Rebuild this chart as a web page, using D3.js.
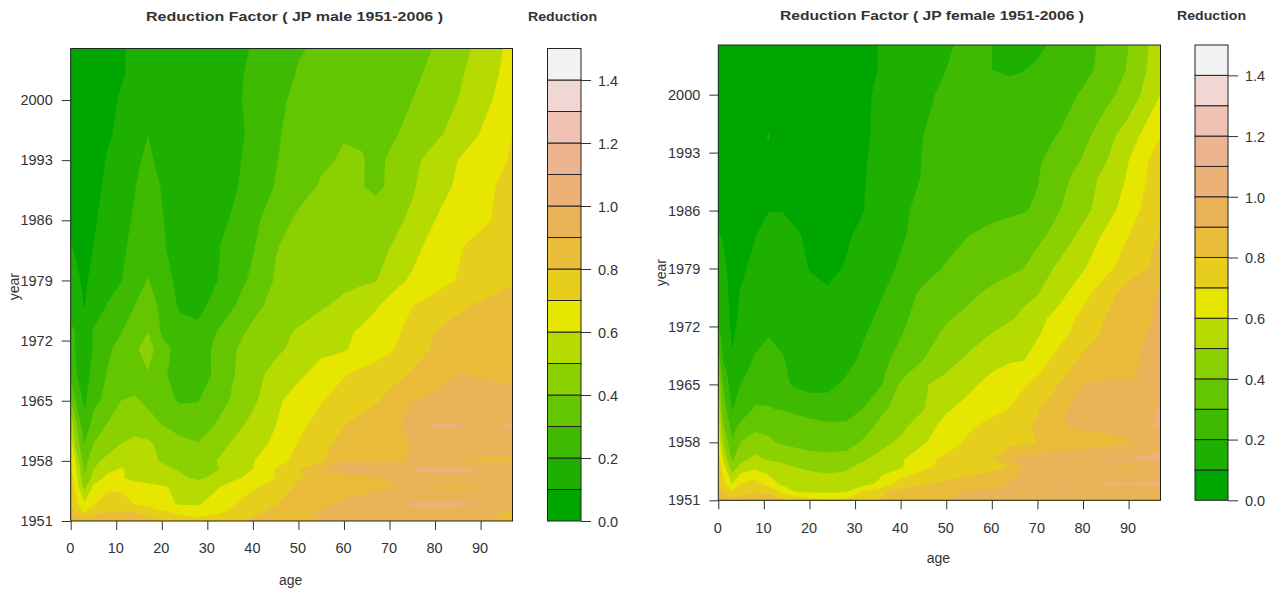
<!DOCTYPE html>
<html>
<head>
<meta charset="utf-8">
<script src="https://cdn.jsdelivr.net/npm/d3@7"></script>
<style>
html,body{margin:0;padding:0;background:#fff}
svg{display:block}
text{font-family:"Liberation Sans",Arial,sans-serif;fill:#333}
.domain{display:none}
</style>
</head>
<body>
<svg id="chart" width="1277" height="592"></svg>
<script>
const ages = [0,1,3,5,8,11,14,17,20,24,28,32,36,40,45,50,55,60,64,67,70,75,80,85,90,97];
const maleYears = [1951,1952,1953,1955,1956,1957,1958,1960,1962,1965,1968,1971,1973,1976,1979,1983,1986,1990,1993,1996,2000,2003,2006];
const maleValues = [
[.88,.88,.87,.88,.86,.85,.84,.83,.80,.75,.74,.76,.78,.82,.85,.88,.90,.91,.92,.93,.94,.94,.94,.92,.91,.87],
[.82,.80,.70,.78,.80,.805,.80,.775,.72,.68,.65,.68,.73,.78,.83,.875,.91,.93,.95,.96,.97,.98,.98,.96,.93,.89],
[.80,.74,.61,.69,.76,.78,.695,.66,.63,.59,.59,.64,.695,.755,.795,.85,.885,.915,.93,.945,.97,1.01,1.015,1.02,1.005,.96],
[.75,.68,.47,.62,.67,.665,.64,.625,.61,.58,.57,.59,.64,.685,.73,.82,.84,.86,.875,.885,.89,.92,.89,.88,.90,.91],
[.74,.66,.42,.53,.63,.61,.575,.56,.54,.52,.48,.535,.585,.63,.705,.79,.82,.85,.87,.885,.92,.94,.97,.97,.93,.93],
[.72,.63,.385,.50,.57,.61,.57,.55,.53,.49,.46,.49,.56,.60,.705,.80,.89,1.015,1.02,1.01,.98,1.01,1.02,1.02,1.01,.95],
[.70,.60,.35,.48,.52,.56,.565,.53,.49,.46,.44,.50,.555,.595,.66,.73,.79,.897,.895,.89,.885,.905,.94,.90,.89,.89],
[.66,.48,.30,.40,.46,.50,.53,.52,.47,.42,.405,.46,.515,.57,.615,.705,.78,.82,.84,.85,.875,.905,.92,.925,.93,.93],
[.60,.44,.23,.35,.41,.455,.46,.43,.405,.375,.35,.41,.475,.53,.60,.68,.735,.80,.835,.86,.88,.92,1.01,1.01,.96,1.02],
[.42,.30,.18,.27,.33,.40,.41,.385,.33,.29,.297,.355,.42,.48,.575,.655,.695,.74,.77,.79,.825,.90,.92,.93,.93,.935],
[.28,.21,.155,.235,.305,.335,.36,.39,.315,.265,.24,.325,.40,.465,.535,.58,.645,.695,.725,.75,.77,.81,.85,.905,.895,.88],
[.25,.195,.135,.205,.28,.335,.38,.45,.33,.27,.255,.32,.395,.44,.48,.53,.575,.59,.635,.655,.685,.755,.815,.84,.855,.88],
[.22,.20,.125,.21,.26,.295,.36,.40,.29,.245,.225,.30,.37,.42,.47,.51,.555,.58,.615,.645,.67,.73,.80,.83,.85,.87],
[.17,.14,.097,.14,.205,.25,.30,.345,.28,.185,.17,.24,.30,.375,.43,.46,.49,.525,.56,.59,.63,.70,.74,.785,.815,.84],
[.15,.12,.085,.125,.16,.195,.26,.305,.23,.18,.165,.195,.26,.32,.41,.44,.46,.475,.485,.495,.56,.615,.665,.705,.74,.79],
[.105,.09,.075,.10,.145,.18,.225,.265,.21,.165,.15,.19,.24,.29,.395,.43,.45,.465,.475,.485,.495,.565,.64,.69,.73,.77],
[.08,.06,.07,.09,.13,.17,.21,.255,.205,.16,.15,.17,.215,.275,.35,.42,.44,.45,.46,.47,.475,.515,.60,.64,.68,.74],
[.04,.04,.05,.075,.115,.15,.195,.24,.195,.155,.14,.155,.19,.245,.305,.36,.41,.43,.405,.37,.42,.49,.555,.615,.665,.74],
[.04,.04,.055,.07,.105,.14,.18,.22,.17,.14,.14,.15,.18,.235,.295,.345,.385,.41,.405,.38,.41,.475,.54,.60,.65,.71],
[.05,.05,.06,.07,.09,.115,.15,.20,.16,.14,.14,.15,.17,.225,.29,.33,.36,.395,.39,.375,.385,.425,.48,.54,.605,.70],
[.05,.05,.06,.07,.085,.105,.12,.135,.14,.14,.15,.16,.18,.23,.285,.315,.325,.335,.345,.355,.37,.40,.45,.50,.565,.66],
[.05,.05,.06,.07,.08,.095,.11,.12,.13,.14,.15,.16,.185,.215,.27,.305,.315,.32,.33,.335,.35,.38,.425,.485,.54,.645],
[.05,.05,.06,.07,.08,.095,.11,.12,.13,.14,.15,.16,.18,.205,.25,.295,.31,.32,.325,.335,.35,.37,.405,.46,.53,.63]
];
const femaleYears = [1951,1952,1953,1955,1956,1958,1960,1962,1965,1966,1968,1971,1973,1976,1979,1983,1986,1990,1992,1995,2000,2003,2006];
const femaleValues = [
[.86,.86,.85,.85,.86,.85,.82,.78,.74,.72,.73,.76,.81,.85,.88,.90,.92,.91,.92,.92,.93,.94,.95,.95,.97,.98],
[.83,.80,.71,.77,.795,.79,.68,.60,.595,.585,.60,.72,.785,.83,.86,.885,.91,.92,.925,.93,.94,.95,.96,.96,.96,.97],
[.80,.74,.60,.70,.745,.65,.58,.56,.55,.54,.55,.56,.63,.75,.79,.82,.84,.87,.905,.93,.95,1.01,.99,1.01,1.01,1.01],
[.76,.66,.44,.54,.575,.555,.53,.50,.485,.475,.485,.53,.57,.59,.68,.725,.755,.78,.80,.905,.91,.92,.92,.91,.885,.93],
[.73,.60,.385,.47,.52,.49,.47,.45,.44,.43,.44,.49,.54,.585,.67,.72,.76,.795,.91,.93,.95,.96,.97,1.01,1.01,1.04],
[.68,.50,.315,.405,.45,.41,.39,.375,.36,.355,.355,.415,.47,.52,.59,.655,.72,.745,.765,.78,.80,.84,.85,.86,.89,.94],
[.65,.42,.265,.32,.37,.385,.385,.365,.34,.32,.32,.36,.43,.47,.56,.63,.685,.73,.76,.78,.82,.895,.92,.93,.94,1.02],
[.58,.36,.195,.25,.31,.305,.295,.27,.25,.24,.245,.305,.385,.44,.495,.59,.63,.67,.705,.745,.79,.89,.92,.93,.94,1.01],
[.50,.30,.15,.205,.25,.27,.215,.19,.175,.18,.215,.25,.30,.41,.49,.535,.58,.63,.665,.69,.72,.805,.90,.92,.92,.96],
[.45,.27,.135,.185,.235,.26,.21,.187,.173,.173,.20,.24,.29,.385,.46,.51,.56,.61,.64,.66,.70,.78,.88,.885,.89,.93],
[.35,.20,.105,.15,.21,.25,.205,.18,.17,.16,.17,.22,.275,.335,.40,.46,.52,.57,.59,.595,.65,.74,.82,.855,.885,.93],
[.23,.17,.09,.125,.165,.195,.185,.18,.175,.165,.17,.195,.25,.295,.36,.42,.455,.505,.54,.56,.59,.67,.755,.815,.875,.92],
[.17,.14,.085,.11,.13,.15,.17,.175,.165,.15,.155,.175,.225,.28,.34,.39,.425,.46,.49,.52,.57,.64,.73,.805,.86,.915],
[.15,.13,.08,.105,.125,.14,.15,.16,.115,.107,.12,.15,.195,.25,.32,.355,.38,.42,.45,.475,.495,.57,.665,.76,.845,.91],
[.14,.12,.075,.09,.115,.14,.14,.125,.098,.085,.105,.135,.175,.21,.26,.31,.335,.36,.38,.40,.445,.525,.59,.67,.755,.83],
[.105,.095,.08,.085,.097,.125,.13,.11,.085,.08,.09,.12,.155,.19,.23,.265,.30,.32,.34,.355,.375,.44,.53,.62,.70,.81],
[.05,.05,.06,.07,.08,.098,.098,.08,.075,.075,.08,.10,.145,.18,.23,.255,.27,.28,.285,.295,.31,.40,.47,.555,.655,.78],
[.05,.05,.06,.07,.08,.085,.085,.08,.075,.075,.08,.097,.13,.165,.205,.235,.25,.265,.275,.285,.295,.365,.445,.53,.61,.77],
[.05,.05,.06,.07,.08,.09,.085,.075,.07,.07,.075,.095,.125,.16,.205,.23,.25,.26,.27,.28,.29,.34,.41,.495,.60,.76],
[.05,.05,.06,.07,.08,.103,.08,.07,.065,.065,.07,.09,.12,.155,.20,.225,.24,.25,.26,.27,.28,.305,.37,.46,.55,.70],
[.05,.05,.05,.05,.055,.06,.06,.06,.06,.065,.07,.09,.115,.15,.185,.215,.225,.235,.24,.245,.25,.27,.31,.37,.44,.60],
[.05,.05,.05,.05,.05,.05,.05,.055,.06,.065,.07,.085,.105,.14,.175,.20,.215,.20,.185,.198,.215,.24,.275,.33,.41,.57],
[.05,.05,.05,.05,.05,.05,.05,.055,.06,.065,.07,.085,.105,.14,.17,.195,.21,.20,.18,.175,.18,.23,.27,.32,.40,.56]
];
const bandColors = ["#00A600","#1DB000","#3EBB00","#63C600","#8BD000","#B6DB00","#E6E600","#E7CE1D","#E9BD3A","#EAB358","#ECB176","#EDB58F","#EFC2B3","#F1D7D3","#F2F2F2"];
const levels = [0,.1,.2,.3,.4,.5,.6,.7,.8,.9,1,1.1,1.2,1.3,1.4,1.5];
const legendTicks = [0,.2,.4,.6,.8,1,1.2,1.4];
const ageTicks = [0,10,20,30,40,50,60,70,80,90];
const yearTicks = [1951,1958,1965,1972,1979,1986,1993,2000];

const svg = d3.select("#chart");

function panel(cfg){
  const x = d3.scaleLinear().domain([0,97]).range([cfg.left,cfg.right]);
  const y = d3.scaleLinear().domain([1951,2006]).range([cfg.bottom,cfg.top]);
  const n = ages.length, m = cfg.years.length;
  const col = d3.scaleLinear().domain(d3.range(n)).range(ages).clamp(true);
  const row = d3.scaleLinear().domain(d3.range(m)).range(cfg.years).clamp(true);
  const contours = d3.contours().size([n,m]).thresholds(levels.slice(0,15))(cfg.values.flat());
  const path = d3.geoPath(d3.geoTransform({
    point(a,b){ this.stream.point(x(col(a-.5)), y(row(b-.5))); }
  }));
  const g = svg.append("g");
  g.append("rect").attr("x",cfg.left).attr("y",cfg.top)
    .attr("width",cfg.right-cfg.left).attr("height",cfg.bottom-cfg.top).attr("fill",bandColors[0]);
  g.selectAll("path.band").data(contours).join("path").attr("class","band")
    .attr("d",path).attr("fill",(d,i)=>bandColors[i]);
  g.append("rect").attr("x",cfg.left).attr("y",cfg.top)
    .attr("width",cfg.right-cfg.left).attr("height",cfg.bottom-cfg.top)
    .attr("fill","none").attr("stroke","#222").attr("stroke-width",1);

  const xAxis = g.append("g").attr("transform",`translate(0,${cfg.bottom})`)
    .call(d3.axisBottom(x).tickValues(ageTicks).tickSize(9).tickPadding(13).tickFormat(d3.format("d")));
  const yAxis = g.append("g").attr("transform",`translate(${cfg.left},0)`)
    .call(d3.axisLeft(y).tickValues(yearTicks).tickSize(9).tickPadding(9).tickFormat(d3.format("d")));
  [xAxis,yAxis].forEach(a=>{
    a.selectAll("text").attr("font-size",14.5).attr("font-family","Liberation Sans").attr("fill","#333");
    a.selectAll("line").attr("stroke","#333");
  });
  xAxis.selectAll("text").attr("dx",-1);

  g.append("text").attr("x",(cfg.left+cfg.right)/2-1).attr("y",cfg.bottom+cfg.ageDy)
    .attr("text-anchor","middle").attr("font-size",14).text("age");
  g.append("text").attr("transform",`translate(${cfg.left-52},${(cfg.top+cfg.bottom)/2+cfg.yearDy}) rotate(-90)`)
    .attr("text-anchor","middle").attr("font-size",14).text("year");
  g.append("text").attr("x",cfg.titleX).attr("y",cfg.titleY).attr("font-size",12.5).attr("font-weight","bold")
    .attr("textLength",cfg.titleW).attr("lengthAdjust","spacingAndGlyphs").text(cfg.title);
  g.append("text").attr("x",cfg.legX).attr("y",cfg.titleY).attr("font-size",12.5).attr("font-weight","bold")
    .attr("textLength",69).attr("lengthAdjust","spacingAndGlyphs").text("Reduction");

  const ly = d3.scaleLinear().domain([0,1.5]).range([cfg.bottom,cfg.top]);
  const l = svg.append("g");
  l.selectAll("rect").data(bandColors).join("rect")
    .attr("x",cfg.barL).attr("width",cfg.barR-cfg.barL)
    .attr("y",(d,i)=>ly(levels[i+1])).attr("height",(d,i)=>ly(levels[i])-ly(levels[i+1]))
    .attr("fill",d=>d).attr("stroke","#222").attr("stroke-width",1);
  const la = l.append("g").attr("transform",`translate(${cfg.barR},0)`)
    .call(d3.axisRight(ly).tickValues(legendTicks).tickSize(10).tickPadding(7).tickFormat(d3.format(".1f")));
  la.selectAll("text").attr("font-size",14.5).attr("font-family","Liberation Sans").attr("fill","#333").attr("dy","0.36em");
  la.selectAll("line").attr("stroke","#333");
}

panel({values:maleValues,years:maleYears,left:70.7,right:512.5,top:48.5,bottom:521,ageDy:64,yearDy:2,
  title:"Reduction Factor ( JP male 1951-2006 )",titleX:146,titleY:21,titleW:297,legX:528,
  barL:547.5,barR:581});
panel({values:femaleValues,years:femaleYears,left:718.3,right:1160.5,top:45,bottom:500.3,ageDy:63,yearDy:0,
  title:"Reduction Factor ( JP female 1951-2006 )",titleX:780,titleY:20,titleW:304,legX:1177,
  barL:1195,barR:1228});
</script>
</body>
</html>
